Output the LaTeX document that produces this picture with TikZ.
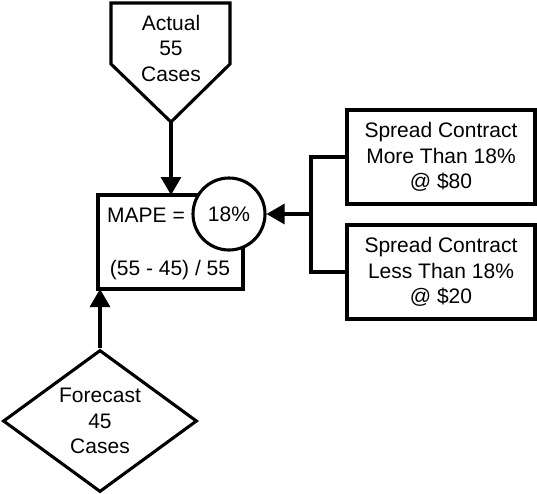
\documentclass[tikz,border=0pt]{standalone}
\usepackage{fontspec}
\setmainfont{Liberation Sans}
\usetikzlibrary{arrows.meta,shapes.geometric}

\tikzset{
  lbl/.style={font=\fontsize{21}{25.5}\selectfont, align=center, inner sep=0pt},
  thick line/.style={line width=3.1pt},
  boxnode/.style={thick line, draw, rectangle, inner sep=0pt, outer sep=0pt},
  flow/.style={thick line, -{Triangle[length=18pt,width=20pt]}}
}

\begin{document}
\begin{tikzpicture}[x=1pt, y=-1pt]
  \useasboundingbox (0,0) rectangle (537,493);

  % Actual: pentagon pointing down
  \draw[thick line, line join=miter]
    (111,3) -- (230,3) -- (230,64) -- (171,122) -- (111,64) -- cycle;
  \coordinate (actualtip) at (171,122);
  \node[lbl] (actual) at (171,48) {Actual\\55\\Cases};

  % MAPE box
  \node[boxnode, minimum width=145pt, minimum height=94pt] (mape) at (170.5,242) {};
  \node[lbl, anchor=base] (mapeeq) at (146,222.5) {MAPE =};
  \node[lbl, anchor=base] (ratio) at (170,275.5) {(55 - 45) / 55};

  % Result circle over the box corner
  \node[thick line, draw, circle, fill=white, minimum size=72pt, inner sep=0pt,
        font=\fontsize{21}{25.5}\selectfont] (pct) at (229,214) {18\%};

  % Forecast diamond
  \node[thick line, draw, diamond, aspect=1.366, minimum width=194pt,
        minimum height=142pt, inner sep=0pt, lbl] (forecast) at (100,421)
        {Forecast\\45\\Cases};

  % Contract boxes
  \node[boxnode, minimum width=188pt, minimum height=94pt, lbl] (more) at (441,157)
        {Spread Contract\\More Than 18\%\\@ \$80};
  \node[boxnode, minimum width=188pt, minimum height=94pt, lbl] (less) at (441,272)
        {Spread Contract\\Less Than 18\%\\@ \$20};

  % Connectors
  \draw[flow] (actualtip) -- (actualtip |- mape.north);
  \draw[flow] (forecast.north) -- (forecast.north |- mape.south);
  \coordinate (join) at (311,214);
  \draw[thick line] (more.west) -| (join) |- (less.west);
  \draw[flow] (join) -- (pct.east);
\end{tikzpicture}
\end{document}
